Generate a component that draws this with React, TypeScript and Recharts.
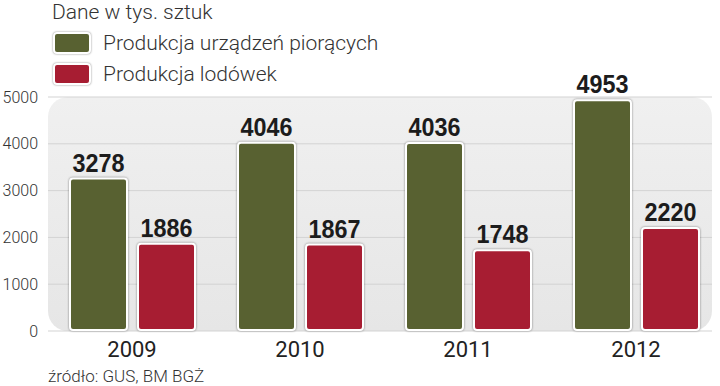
import React from 'react';
import { BarChart, Bar, XAxis, YAxis, CartesianGrid, LabelList } from 'recharts';

const years = ['2009', '2010', '2011', '2012'];
const washers = [3278, 4046, 4036, 4953];
const fridges = [1886, 1867, 1748, 2220];
const yTicks = [0, 1000, 2000, 3000, 4000, 5000];

const GREEN = '#586131';
const RED = '#a71d32';

const data = years.map((year, i) => ({ year, washers: washers[i], fridges: fridges[i] }));

const BarShape = (props: any) => {
  const { x, y, width, height, fill } = props;
  if (!height || height <= 0) return null;
  return (
    <rect
      x={x + 1}
      y={y + 1}
      width={width - 2}
      height={height - 2}
      rx={3}
      ry={3}
      fill={fill}
      stroke="#fff"
      strokeWidth={2}
      style={{ filter: 'drop-shadow(0 0 1.2px rgba(0,0,0,0.45))' }}
    />
  );
};

// condensed bold numbers above the bars
const ValueLabel = (props: any) => {
  const { x, y, width, value } = props;
  return (
    <text
      x={x + width / 2}
      y={y - 6}
      textAnchor="middle"
      fill="#1c1c1c"
      fontFamily="'Liberation Sans', Arial, sans-serif"
      fontWeight="bold"
      fontSize={25}
      textLength={52}
      lengthAdjust="spacingAndGlyphs"
    >
      {value}
    </text>
  );
};

const LegendBox = ({ color }: { color: string }) => (
  <span
    style={{
      display: 'inline-block',
      width: 34,
      height: 18,
      background: color,
      border: '2px solid #fff',
      borderRadius: 4,
      boxShadow: '0 0 2px rgba(0,0,0,0.5)',
      marginRight: 12,
    }}
  />
);

export default function App() {
  const font = "Roboto, 'Open Sans', sans-serif";
  return (
    <div style={{ position: 'absolute', left: 0, top: 0, width: 720, height: 386, background: '#fff', fontFamily: font, color: '#333' }}>
      <div
        style={{
          position: 'absolute',
          left: 48,
          top: 97,
          width: 664,
          height: 234,
          borderRadius: 20,
          background: 'linear-gradient(#f0f0f0, #e6e6e6)',
        }}
      />
      <div style={{ position: 'absolute', left: 52, top: 0, fontSize: 21, lineHeight: '24px', fontWeight: 300, whiteSpace: 'nowrap' }}>
        Dane w tys. sztuk
      </div>
      <div style={{ position: 'absolute', left: 53, top: 31, fontSize: 21, lineHeight: '24px', fontWeight: 300, display: 'flex', alignItems: 'center', whiteSpace: 'nowrap' }}>
        <LegendBox color={GREEN} />
        Produkcja urządzeń piorących
      </div>
      <div style={{ position: 'absolute', left: 53, top: 62, fontSize: 21, lineHeight: '24px', fontWeight: 300, display: 'flex', alignItems: 'center', whiteSpace: 'nowrap' }}>
        <LegendBox color={RED} />
        Produkcja lodówek
      </div>
      <div style={{ position: 'absolute', left: 48, top: 366, fontSize: 17, lineHeight: '20px', fontWeight: 300, whiteSpace: 'nowrap' }}>
        źródło: GUS, BM BGŻ
      </div>
      <div style={{ position: 'absolute', left: 0, top: 0 }}>
        <BarChart
          width={720}
          height={386}
          data={data}
          margin={{ top: 97, right: 0, bottom: 25, left: 0 }}
          barSize={59}
          barGap={9}
        >
          <CartesianGrid horizontal vertical={false} stroke="#d3d3d3" strokeWidth={1} x={48} width={664} />
          <XAxis
            dataKey="year"
            axisLine={false}
            tickLine={false}
            tickSize={0}
            tickMargin={10}
            height={30}
            tick={{ fill: '#222', fontSize: 22, fontWeight: 400, fontFamily: font }}
          />
          <YAxis
            domain={[0, 5000]}
            ticks={yTicks}
            width={48}
            axisLine={false}
            tickLine={false}
            tickSize={0}
            tickMargin={10}
            tick={{ fill: '#333', fontSize: 16, fontWeight: 300, fontFamily: font }}
          />
          <Bar dataKey="washers" fill={GREEN} shape={BarShape} isAnimationActive={false}>
            <LabelList dataKey="washers" content={ValueLabel} />
          </Bar>
          <Bar dataKey="fridges" fill={RED} shape={BarShape} isAnimationActive={false}>
            <LabelList dataKey="fridges" content={ValueLabel} />
          </Bar>
        </BarChart>
      </div>
    </div>
  );
}
